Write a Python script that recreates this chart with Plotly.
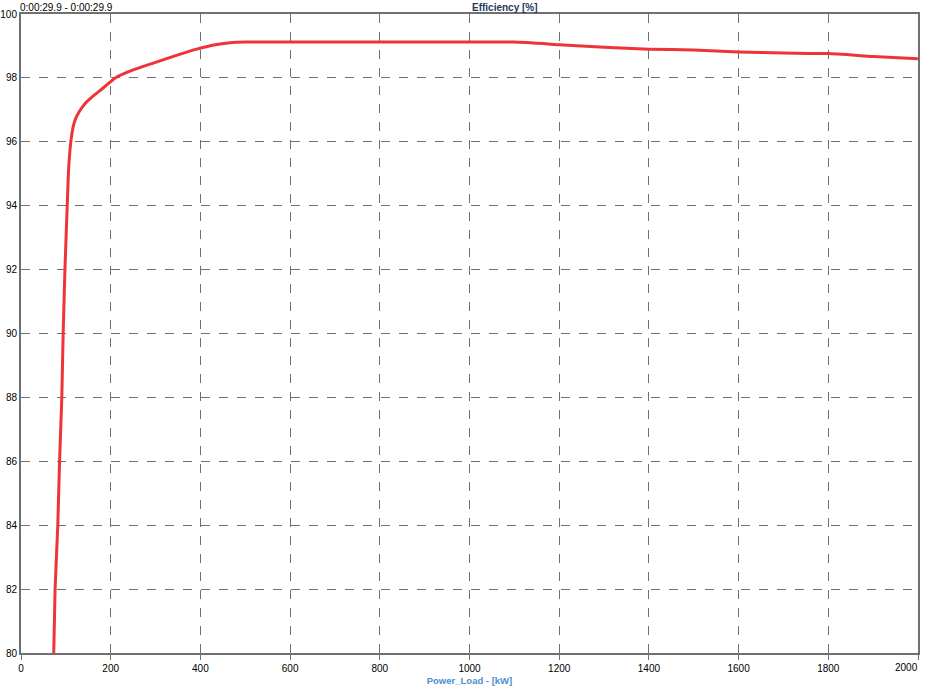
import plotly.graph_objects as go

power_kw = [73, 76, 82, 86, 91, 94, 98, 103, 106, 111, 116, 121, 130, 143, 158, 176, 210, 250, 303, 350, 392, 430, 466, 500, 600, 700, 800, 900, 1000, 1100, 1200, 1300, 1400, 1500, 1600, 1700, 1800, 1900, 2000]
efficiency = [80.0, 82.0, 84.0, 86.0, 88.0, 90.0, 92.0, 94.0, 95.1, 96.0, 96.45, 96.7, 96.95, 97.2, 97.4, 97.6, 98.0, 98.25, 98.5, 98.72, 98.9, 99.03, 99.1, 99.12, 99.12, 99.12, 99.12, 99.12, 99.12, 99.12, 99.04, 98.96, 98.9, 98.87, 98.81, 98.78, 98.76, 98.67, 98.6]
x_ticks = [0, 200, 400, 600, 800, 1000, 1200, 1400, 1600, 1800, 2000]
x_tick_text = ["0", "200", "400", "600", "800", "1000", "1200", "1400", "1600", "1800", ""]
y_ticks = [80, 82, 84, 86, 88, 90, 92, 94, 96, 98, 100]

FONT = "Liberation Sans"

fig = go.Figure()
fig.add_trace(go.Scatter(x=power_kw, y=efficiency, mode="lines",
                         line=dict(color="#f03338", width=3, shape="spline", smoothing=0.4),
                         showlegend=False, hoverinfo="skip"))

axis_common = dict(showgrid=True, gridcolor="#707070", griddash="dash", gridwidth=1,
                   showline=True, linecolor="#707070", linewidth=2, mirror=True,
                   zeroline=False, automargin=False,
                   tickfont=dict(family=FONT, size=10, color="#000000"))
fig.update_xaxes(range=[0, 2000], tickvals=x_ticks, ticktext=x_tick_text, ticks="outside", ticklen=5, tickcolor="#707070",
                 title=dict(text="<b>Power_Load - [kW]</b>", font=dict(family=FONT, size=9.5, color="#4a90d0"), standoff=4),
                 **axis_common)
fig.update_yaxes(range=[80, 100], tickvals=y_ticks, ticks="", **axis_common)

fig.update_layout(width=925, height=696, margin=dict(l=21, r=7, t=14, b=43, autoexpand=False),
                  plot_bgcolor="white", paper_bgcolor="white",
                  font=dict(family=FONT, size=10, color="#000000"))
fig.add_annotation(text="2000", xref="x", yref="paper", x=2000, y=0, yanchor="top", xanchor="right",
                   showarrow=False, yshift=-7, xshift=2, font=dict(family=FONT, size=10, color="#000000"))
fig.add_annotation(text="<b>Efficiency [%]</b>", xref="paper", yref="paper", x=0.54, y=1.0,
                   yanchor="bottom", xanchor="center", showarrow=False,
                   font=dict(family=FONT, size=10, color="#1f3a5a"), yshift=-1)
fig.add_annotation(text="0:00:29.9 - 0:00:29.9", xref="paper", yref="paper", x=0.0, y=1.0,
                   yanchor="bottom", xanchor="left", showarrow=False,
                   font=dict(family=FONT, size=10, color="#000000"), yshift=-1, xshift=-3)
fig.write_html("out.html", config={"displayModeBar": False},
               post_script="document.body.style.margin='0';")
